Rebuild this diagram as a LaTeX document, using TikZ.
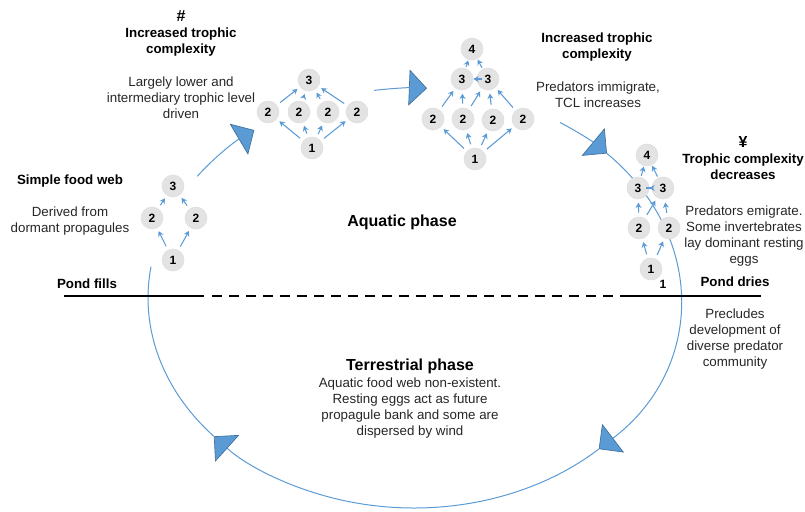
\documentclass[tikz,border=0pt]{standalone}
\usepackage{fontspec}
\setmainfont{Liberation Sans}
\usetikzlibrary{arrows.meta,calc}
\definecolor{webblue}{HTML}{5B9BD5}
\definecolor{tipedge}{HTML}{41719C}
\definecolor{spgray}{HTML}{E3E3E3}
\definecolor{inkgray}{HTML}{262626}

\begin{document}
\begin{tikzpicture}[x=0.75pt, y=-0.75pt,
    sp/.style={circle, fill=spgray, draw=black!12, line width=0.5pt, minimum size=16.5pt,
        inner sep=0pt, font=\fontsize{9}{10}\selectfont\bfseries},
    feed/.style={draw=webblue, line width=0.8pt, -{Stealth[length=4pt,width=4.5pt]},
        shorten <=3pt, shorten >=2.5pt},
    tight/.style={shorten <=1pt, shorten >=0.5pt},
    cyc/.style={draw=webblue, line width=0.75pt},
    bigtip/.style={-{Triangle[length=13.5pt,width=27pt,fill=webblue,color=tipedge,line width=0.5pt]}},
    note/.style={align=center, inner sep=0pt, anchor=north, text=inkgray},
    head/.style={note, font=\bfseries, text=black},
    phase/.style={font=\fontsize{12}{14}\selectfont\bfseries, inner sep=0pt},
    shore/.style={line width=1.4pt, black}]

\useasboundingbox (0,0) rectangle (805,511);

% Wet and dry cycle of the pond
\coordinate (mid) at (414,298);
\foreach \from/\to in {215.4/233.1, 261.4/272.8, 303.3/316.5, 316.5/406, 406/498.8}
    \draw[cyc, bigtip] ($(mid)+(\from:266 and 210)$)
        arc[start angle=\from, end angle=\to, x radius=266, y radius=210];
\draw[cyc] ($(mid)+(498.8:266 and 210)$)
    arc[start angle=498.8, end angle=548.6, x radius=266, y radius=210];

% Water line
\coordinate (fillL) at (64,296);
\coordinate (fillR) at (204,296);
\coordinate (dashL) at (212,296);
\coordinate (dryL) at (626,296);
\coordinate (dryR) at (761,296);
\draw[shore] (fillL) -- (fillR);
\draw[shore, dash pattern=on 7.5pt off 5.25pt] (dashL) -- (dryL);
\draw[shore] (dryL) -- (dryR);

% Simple food web
\node[sp] (s1) at (173,260) {1};
\node[sp] (s2a) at (152,218) {2};
\node[sp] (s2b) at (196,218) {2};
\node[sp] (s3) at (173,186) {3};
\foreach \lo/\hi in {s1/s2a, s1/s2b, s2a/s3, s2b/s3}
    \draw[feed] (\lo) -- (\hi);

% Lower levels driven web
\node[sp] (a1) at (312,148) {1};
\node[sp] (a2a) at (268,112) {2};
\node[sp] (a2b) at (299,112) {2};
\node[sp] (a2c) at (328,112) {2};
\node[sp] (a2d) at (357,112) {2};
\node[sp] (a3) at (309,80) {3};
\foreach \mid in {a2a, a2b, a2c, a2d} {
    \draw[feed] (a1) -- (\mid);
    \draw[feed] (\mid) -- (a3);
}

% Predators immigrate
\node[sp] (b1) at (475,159) {1};
\node[sp] (b2a) at (433,119) {2};
\node[sp] (b2b) at (463,119) {2};
\node[sp] (b2c) at (493,120) {2};
\node[sp] (b2d) at (523,119) {2};
\node[sp] (b3a) at (462,79) {3};
\node[sp] (b3b) at (488,79) {3};
\node[sp] (b4) at (472,49) {4};
\foreach \mid in {b2a, b2b, b2c, b2d}
    \draw[feed] (b1) -- (\mid);
\foreach \lo/\hi in {b2a/b3a, b2b/b3a, b2b/b3b, b2c/b3b, b2d/b3b}
    \draw[feed] (\lo) -- (\hi);
\draw[feed, tight] (b3a) -- (b4);
\draw[feed, tight] (b3b) -- (b4);
\draw[feed, shorten <=-4pt, shorten >=0pt] (b3b) -- (b3a);

% Predators emigrate
\node[sp] (c1) at (651,269) {1};
\node[sp] (c2a) at (639,228) {2};
\node[sp] (c2b) at (669,228) {2};
\node[sp] (c3a) at (638,188) {3};
\node[sp] (c3b) at (663,188) {3};
\node[sp] (c4) at (647,155) {4};
\foreach \lo/\hi in {c1/c2a, c1/c2b, c2a/c3a, c2a/c3b, c2b/c3b}
    \draw[feed] (\lo) -- (\hi);
\draw[feed, tight] (c3a) -- (c4);
\draw[feed, tight] (c3b) -- (c4);
\draw[feed, shorten <=-4pt, shorten >=0pt] (c3b) -- (c3a);
\node[font=\fontsize{9}{10}\selectfont\bfseries, inner sep=0pt] (c1lab) at (663,284) {1};

% Labels
\node[head] (t0head) at (70,175) {Simple food web};
\node[note] (t0note) at (70,207) {Derived from\\dormant propagules};
\node[head] (t1head) at (181,10) {{\fontsize{12}{12}\selectfont\#}\\Increased trophic\\complexity};
\node[note] (t1note) at (181,77) {Largely lower and\\intermediary trophic level\\driven};
\node[head] (t2head) at (597,33) {Increased trophic\\complexity};
\node[note] (t2note) at (598,82) {Predators immigrate,\\TCL increases};
\node[head] (t3head) at (743,136) {{\fontsize{12}{12}\selectfont ¥}\\Trophic complexity\\decreases};
\node[note] (t3note) at (744,206) {Predators emigrate.\\Some invertebrates\\lay dominant resting\\eggs};
\node[head] (fills) at (87,279) {Pond fills};
\node[head] (dries) at (735,277) {Pond dries};
\node[note] (drynote) at (735,309) {Precludes\\development of\\diverse predator\\community};
\node[phase] (aqua) at (402,222) {Aquatic phase};
\node[phase, anchor=north] (terra) at (410,359) {Terrestrial phase};
\node[note] (terranote) at (410,378) {Aquatic food web non-existent.\\Resting eggs act as future\\propagule bank and some are\\dispersed by wind};

\end{tikzpicture}
\end{document}
